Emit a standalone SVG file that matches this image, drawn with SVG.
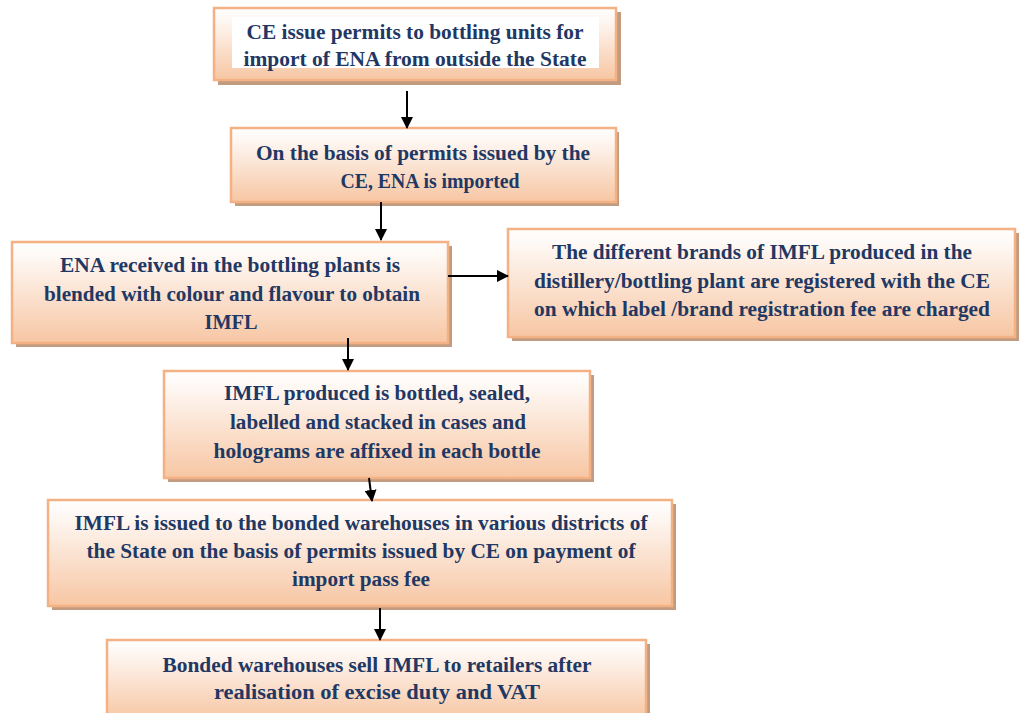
<svg xmlns="http://www.w3.org/2000/svg" width="1021" height="713" viewBox="0 0 1021 713">
<defs>
<linearGradient id="g" x1="0" y1="0" x2="0" y2="1">
<stop offset="0" stop-color="#FFFFFF"/>
<stop offset="0.15" stop-color="#FEF8F4"/>
<stop offset="1" stop-color="#F7C6A3"/>
</linearGradient>
<marker id="ah" markerWidth="12" markerHeight="12" refX="11" refY="6" orient="auto" markerUnits="userSpaceOnUse">
<path d="M0,0 L12,6 L0,12 z" fill="#000"/>
</marker>
<style>
.sh{fill:#C29C80;}
.bx{fill:url(#g);stroke:#F4B183;stroke-width:2.5;}
.t{font-family:"Liberation Serif","Times New Roman",serif;font-weight:bold;font-size:20.5px;fill:#1F3864;text-anchor:middle;}
.c{stroke:#000;stroke-width:2;fill:none;marker-end:url(#ah);}
</style>
</defs>
<rect width="1021" height="713" fill="#FFFFFF"/>
<g id="n1">
<rect class="sh" x="218" y="12" width="403" height="73"/>
<rect class="bx" x="214" y="8" width="402" height="72"/>
<rect x="232" y="17" width="367" height="51" fill="#FFFFFF"/>
<text class="t" x="415" y="39" textLength="337" lengthAdjust="spacingAndGlyphs">CE issue permits to bottling units for</text>
<text class="t" x="415" y="66" textLength="343" lengthAdjust="spacingAndGlyphs">import of ENA from outside the State</text>
</g>
<g id="n2">
<rect class="sh" x="235" y="132" width="384" height="74"/>
<rect class="bx" x="231" y="128" width="385" height="74"/>
<text class="t" x="423" y="160" textLength="334" lengthAdjust="spacingAndGlyphs">On the basis of permits issued by the</text>
<text class="t" x="430" y="188" textLength="179" lengthAdjust="spacingAndGlyphs">CE, ENA is imported</text>
</g>
<g id="n3">
<rect class="sh" x="16" y="246" width="436" height="101"/>
<rect class="bx" x="12" y="242" width="436" height="101"/>
<text class="t" x="230" y="272" textLength="340" lengthAdjust="spacingAndGlyphs">ENA received in the bottling plants is</text>
<text class="t" x="232" y="301" textLength="376" lengthAdjust="spacingAndGlyphs">blended with colour and flavour to obtain</text>
<text class="t" x="231" y="329" textLength="53" lengthAdjust="spacingAndGlyphs">IMFL</text>
</g>
<g id="n4">
<rect class="sh" x="512" y="233" width="507" height="108"/>
<rect class="bx" x="508" y="229" width="507" height="108"/>
<text class="t" x="762" y="259" textLength="420" lengthAdjust="spacingAndGlyphs">The different brands of IMFL produced in the</text>
<text class="t" x="762" y="288" textLength="456" lengthAdjust="spacingAndGlyphs">distillery/bottling plant are registered with the CE</text>
<text class="t" x="762" y="316" textLength="456" lengthAdjust="spacingAndGlyphs">on which label /brand registration fee are charged</text>
</g>
<g id="n5">
<rect class="sh" x="168" y="375" width="426" height="107"/>
<rect class="bx" x="164" y="371" width="426" height="107"/>
<text class="t" x="377" y="400" textLength="306" lengthAdjust="spacingAndGlyphs">IMFL produced is bottled, sealed,</text>
<text class="t" x="378" y="429" textLength="296" lengthAdjust="spacingAndGlyphs">labelled and stacked in cases and</text>
<text class="t" x="377" y="458" textLength="327" lengthAdjust="spacingAndGlyphs">holograms are affixed in each bottle</text>
</g>
<g id="n6">
<rect class="sh" x="52" y="504" width="624" height="106"/>
<rect class="bx" x="48" y="500" width="624" height="106"/>
<text class="t" x="361" y="530" textLength="573" lengthAdjust="spacingAndGlyphs">IMFL is issued to the bonded warehouses in various districts of</text>
<text class="t" x="361" y="558" textLength="549" lengthAdjust="spacingAndGlyphs">the State on the basis of permits issued by CE on payment of</text>
<text class="t" x="361" y="586" textLength="138" lengthAdjust="spacingAndGlyphs">import pass fee</text>
</g>
<g id="n7">
<rect class="sh" x="111" y="644" width="539" height="75"/>
<rect class="bx" x="107" y="640" width="539" height="80"/>
<text class="t" x="377" y="672" textLength="429" lengthAdjust="spacingAndGlyphs">Bonded warehouses sell IMFL to retailers after</text>
<text class="t" x="377" y="699" textLength="326" lengthAdjust="spacingAndGlyphs">realisation of excise duty and VAT</text>
</g>
<g id="connectors">
<line class="c" x1="407" y1="91" x2="407" y2="128"/>
<line class="c" x1="381" y1="202" x2="381" y2="240"/>
<line class="c" x1="448" y1="276" x2="508" y2="276"/>
<line class="c" x1="348" y1="338" x2="348" y2="370"/>
<line class="c" x1="369" y1="478" x2="372" y2="501"/>
<line class="c" x1="380" y1="608" x2="380" y2="640"/>
</g>
</svg>
